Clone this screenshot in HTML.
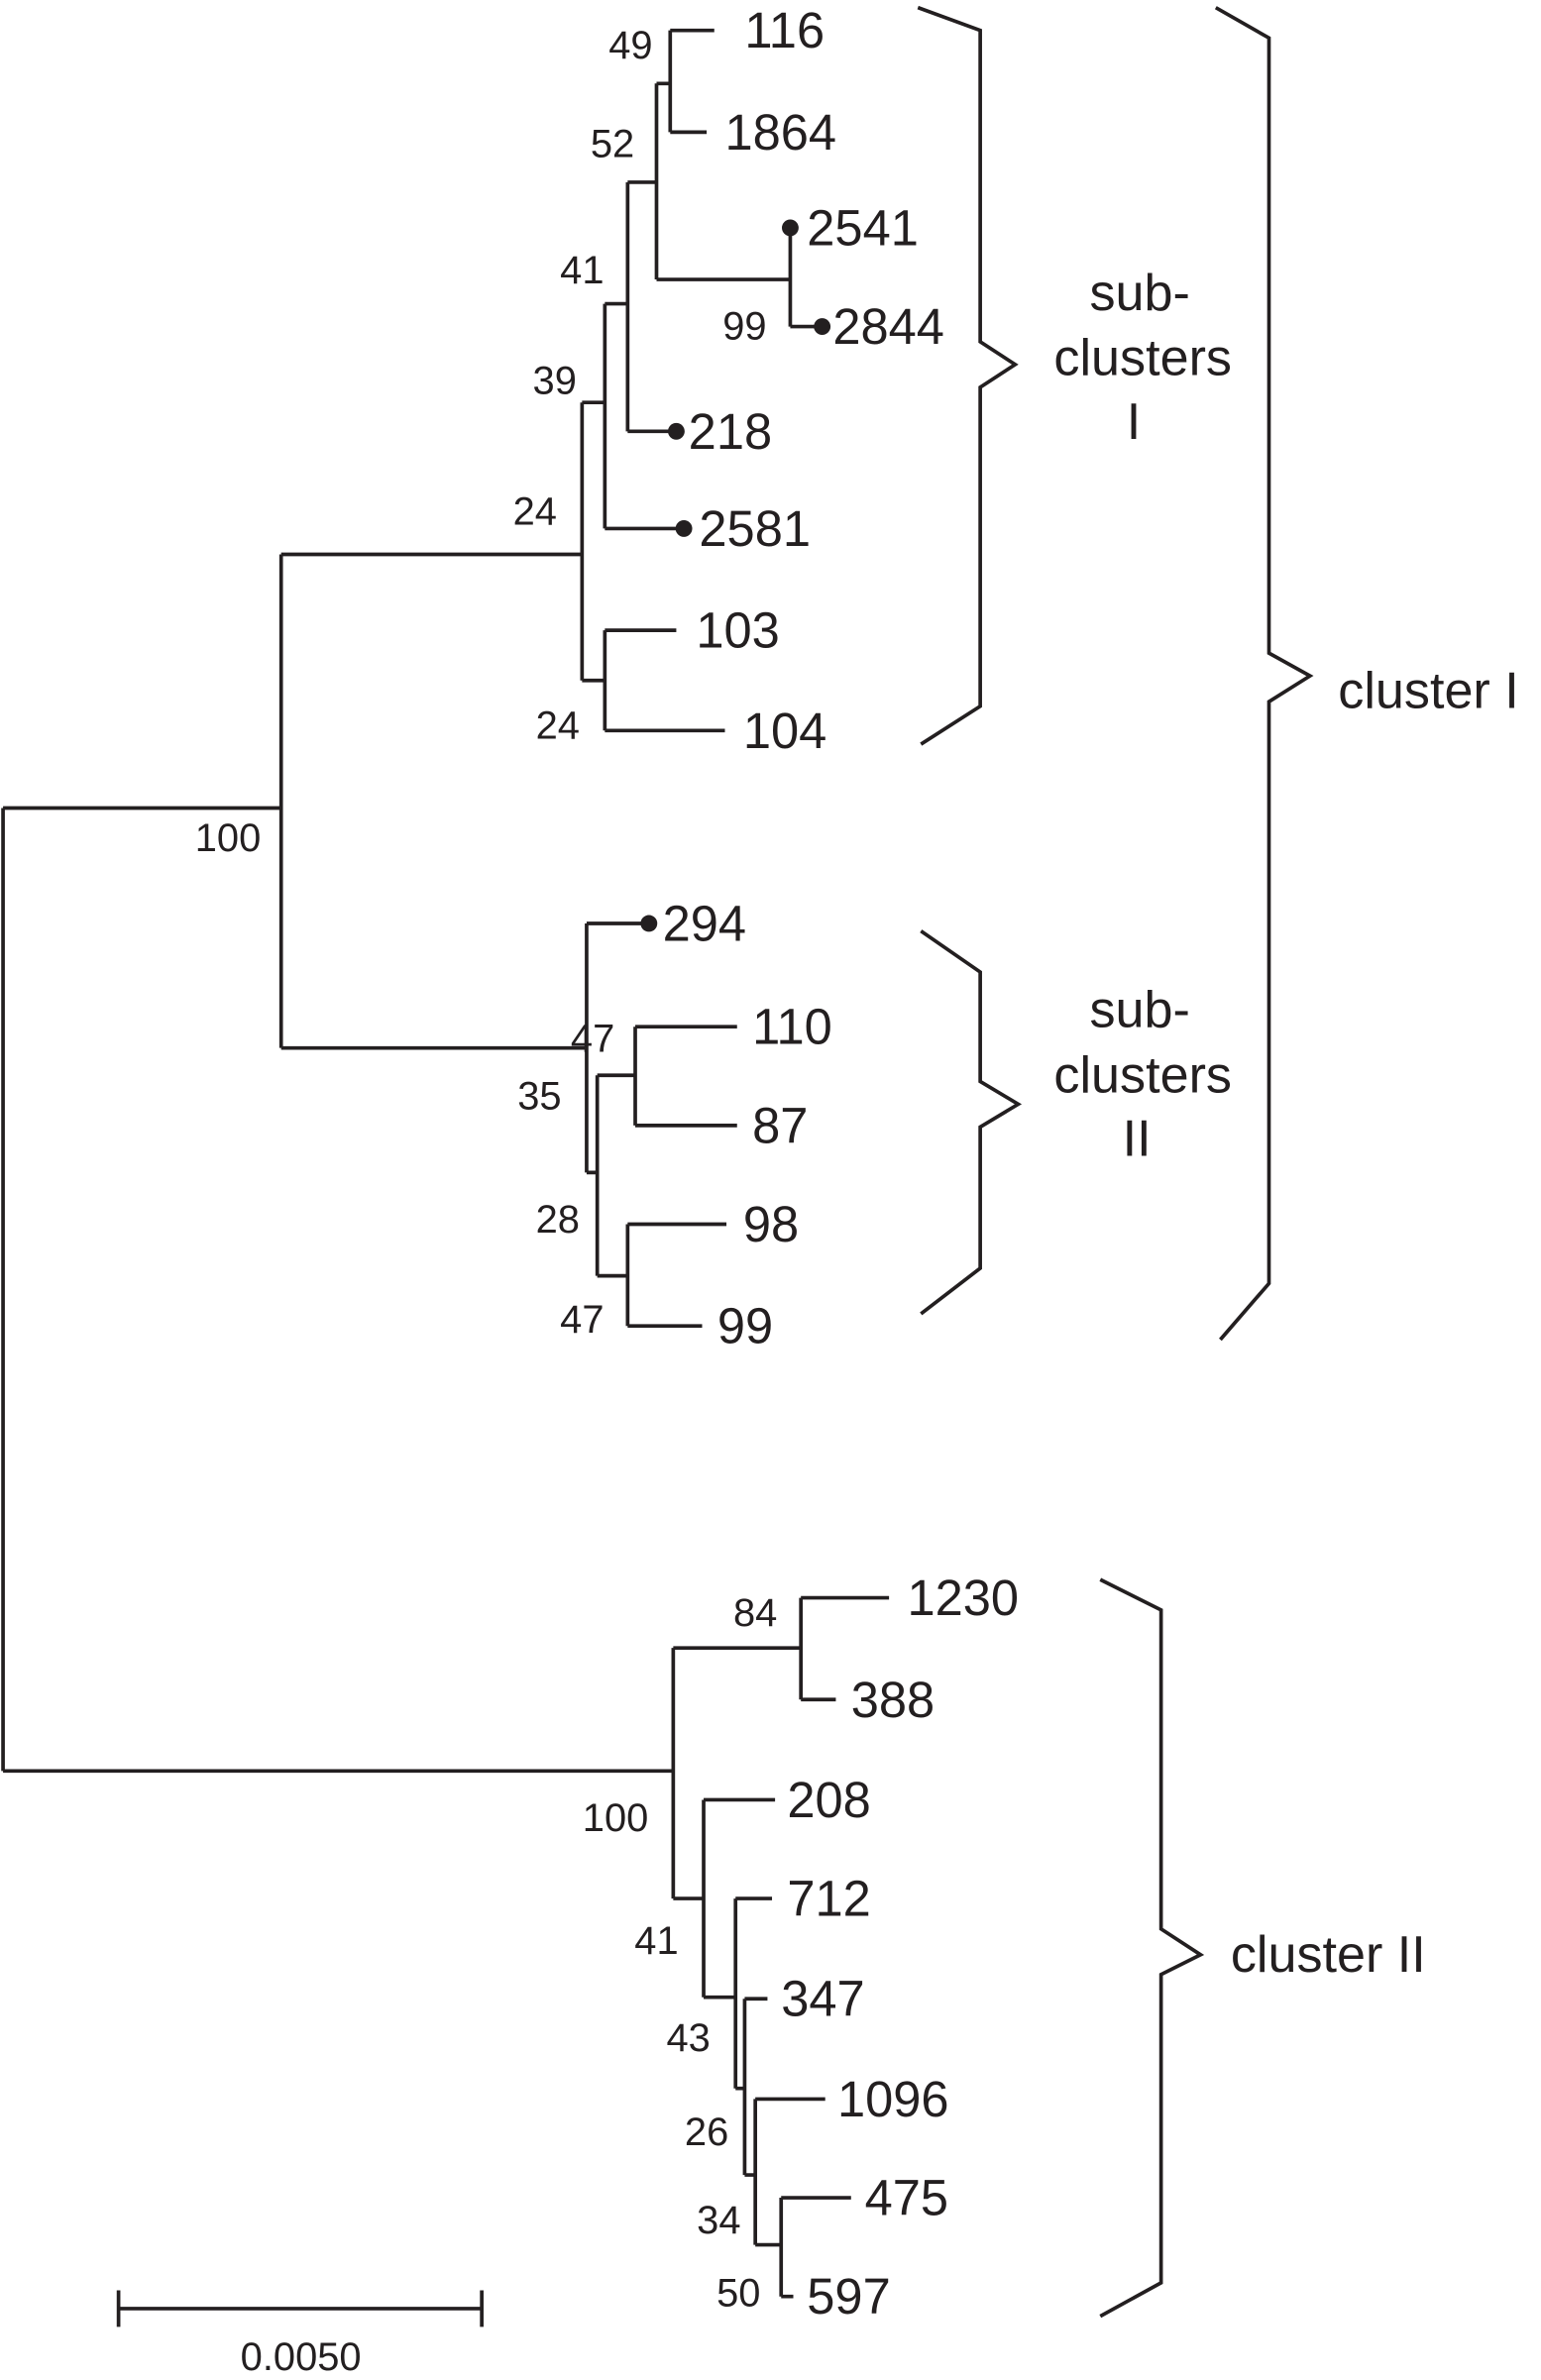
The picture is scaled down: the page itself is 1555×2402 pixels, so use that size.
<!DOCTYPE html>
<html><head><meta charset="utf-8"><style>
html,body{margin:0;padding:0;background:#fff;}
svg{display:block}
text{font-family:"Liberation Sans",sans-serif;fill:#231f20}
.l{font-size:33px;dominant-baseline:central}
.b{font-size:26px;dominant-baseline:central;text-anchor:middle}
.c{font-size:34px;dominant-baseline:central;text-anchor:middle}
</style></head><body>
<svg width="1555" height="2402" viewBox="0 0 1014 1567" preserveAspectRatio="none" xmlns="http://www.w3.org/2000/svg">
<g fill="none" stroke="#231f20" stroke-width="2.4">
<path d="M2 532V1166M2 532H185M2 1166H443"/>
<path d="M185 365V690M185 365H383M185 690H386"/>
<path d="M383 265V448M383 265H398M383 448H398"/>
<path d="M398 200V348M398 200H413M398 348H450"/>
<path d="M413 120V284M413 120H432M413 284H445"/>
<path d="M432 55V184M432 55H441M432 184H520"/>
<path d="M441 20V87M441 20H470M441 87H465"/>
<path d="M520 150V215M520 215H541"/>
<path d="M398 415V481M398 415H445M398 481H477"/>
<path d="M386 608V772M386 608H427M386 772H393"/>
<path d="M393 708V840M393 708H418M393 840H413"/>
<path d="M418 676V741M418 676H485M418 741H485"/>
<path d="M413 806V873M413 806H478M413 873H462"/>
<path d="M443 1085V1250M443 1085H527M443 1250H463"/>
<path d="M527 1052V1119M527 1052H585M527 1119H550"/>
<path d="M463 1185V1315M463 1185H510M463 1315H484"/>
<path d="M484 1250V1375M484 1250H508M484 1375H490"/>
<path d="M490 1316V1432M490 1316H505M490 1432H497"/>
<path d="M497 1382V1478M497 1382H543M497 1478H514"/>
<path d="M514 1447V1512M514 1447H560M514 1512H522"/>
<path d="M604 5L645 20V225L668 240L645 255V465L606 490"/>
<path d="M606 613L645 640V712L670 727L645 742V835L606 865"/>
<path d="M800 5L835 25V430L862 445L835 462V845L803 882"/>
<path d="M724 1040L764 1060V1270L790 1287L764 1300V1503L724 1525"/>
<path d="M78 1520H317M78 1508V1532M317 1508V1532"/>
</g>
<g fill="#231f20">
<circle cx="520" cy="150" r="5.5"/><circle cx="541" cy="215" r="5.5"/>
<circle cx="445" cy="284" r="5.5"/><circle cx="450" cy="348" r="5.5"/>
<circle cx="427" cy="608" r="5.5"/>
</g>
<text class="l" x="490" y="20">116</text>
<text class="l" x="477" y="87">1864</text>
<text class="l" x="531" y="150">2541</text>
<text class="l" x="548" y="215">2844</text>
<text class="l" x="453" y="284">218</text>
<text class="l" x="460" y="348">2581</text>
<text class="l" x="458" y="415">103</text>
<text class="l" x="489" y="481">104</text>
<text class="l" x="436" y="608">294</text>
<text class="l" x="495" y="676">110</text>
<text class="l" x="495" y="741">87</text>
<text class="l" x="489" y="806">98</text>
<text class="l" x="472" y="873">99</text>
<text class="l" x="597" y="1052">1230</text>
<text class="l" x="560" y="1119">388</text>
<text class="l" x="518" y="1185">208</text>
<text class="l" x="518" y="1250">712</text>
<text class="l" x="514" y="1316">347</text>
<text class="l" x="551" y="1382">1096</text>
<text class="l" x="569" y="1447">475</text>
<text class="l" x="531" y="1512">597</text>
<text class="b" x="415" y="30">49</text>
<text class="b" x="403" y="95">52</text>
<text class="b" x="383" y="178">41</text>
<text class="b" x="490" y="215">99</text>
<text class="b" x="365" y="251">39</text>
<text class="b" x="352" y="337">24</text>
<text class="b" x="367" y="478">24</text>
<text class="b" x="150" y="552">100</text>
<text class="b" x="390" y="684">47</text>
<text class="b" x="355" y="722">35</text>
<text class="b" x="367" y="803">28</text>
<text class="b" x="383" y="869">47</text>
<text class="b" x="497" y="1062">84</text>
<text class="b" x="405" y="1197">100</text>
<text class="b" x="432" y="1278">41</text>
<text class="b" x="453" y="1342">43</text>
<text class="b" x="465" y="1404">26</text>
<text class="b" x="473" y="1462">34</text>
<text class="b" x="486" y="1510">50</text>
<text class="b" x="198" y="1552">0.0050</text>
<text class="c" x="750" y="193">sub-</text>
<text class="c" x="752" y="236">clusters</text>
<text class="c" x="746" y="278">I</text>
<text class="c" x="750" y="665">sub-</text>
<text class="c" x="752" y="708">clusters</text>
<text class="c" x="748" y="750">II</text>
<text class="c" x="940" y="455">cluster I</text>
<text class="c" x="874" y="1287">cluster II</text>
</svg>
</body></html>
